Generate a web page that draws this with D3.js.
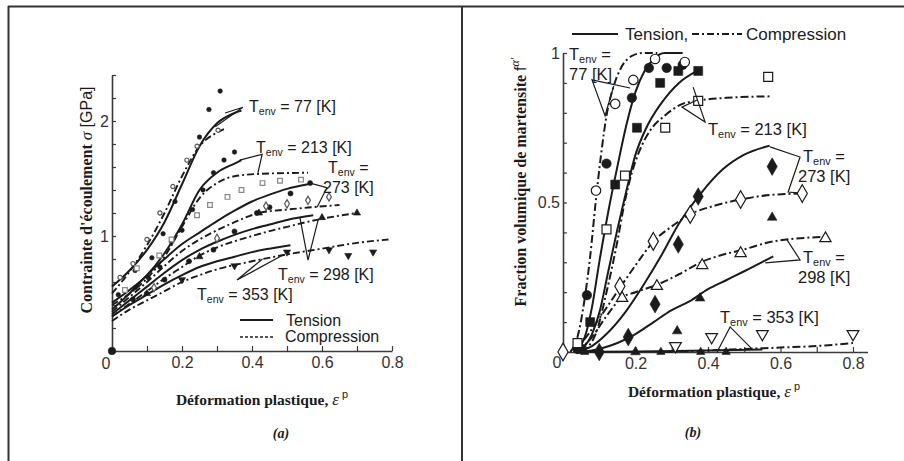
<!DOCTYPE html>
<html><head><meta charset="utf-8">
<script src="https://cdn.jsdelivr.net/npm/d3@7"></script>
<style>body{margin:0;background:#fff}svg{display:block}</style>
</head><body>
<svg id="c" width="904" height="461"></svg>
<script>
// ---------- Panel (a) data : [plastic strain, flow stress GPa] ----------
const xMinorA = [0.1,0.2,0.3,0.4,0.5,0.6,0.7,0.8];
const xLabelsA = {"0.2":"0.2","0.4":"0.4","0.6":"0.6","0.8":"0.8"};
const yMinorA = [0.2,0.4,0.6,0.8,1.0,1.2,1.4,1.6,1.8,2.0,2.2,2.4];
const yLabelsA = {"1":"1","2":"2"};

const tens77A  = [[0,0.56],[0.05,0.7],[0.1,0.88],[0.15,1.12],[0.2,1.45],[0.25,1.78],[0.3,1.98],[0.35,2.07],[0.37,2.09]];
const comp77A  = [[0,0.5],[0.05,0.69],[0.1,0.92],[0.15,1.2],[0.2,1.52],[0.25,1.78],[0.3,1.9],[0.32,1.93]];
const tens213A = [[0,0.42],[0.05,0.53],[0.1,0.66],[0.15,0.85],[0.2,1.1],[0.25,1.4],[0.3,1.55],[0.35,1.63],[0.37,1.66]];
const comp213A = [[0,0.4],[0.05,0.5],[0.1,0.63],[0.15,0.82],[0.2,1.08],[0.25,1.33],[0.3,1.46],[0.35,1.52],[0.42,1.54],[0.56,1.55]];
const tens273A = [[0,0.36],[0.05,0.5],[0.1,0.66],[0.15,0.8],[0.2,0.93],[0.25,1.03],[0.3,1.13],[0.35,1.22],[0.4,1.3],[0.45,1.36],[0.5,1.41],[0.56,1.45]];
const comp273A = [[0,0.34],[0.05,0.47],[0.1,0.6],[0.15,0.74],[0.2,0.87],[0.25,0.97],[0.3,1.05],[0.35,1.12],[0.42,1.2],[0.5,1.23],[0.57,1.25],[0.65,1.27]];
const tens298A = [[0,0.32],[0.05,0.44],[0.1,0.56],[0.15,0.68],[0.2,0.79],[0.25,0.88],[0.3,0.95],[0.35,1.01],[0.4,1.06],[0.45,1.1],[0.5,1.14],[0.575,1.18]];
const comp298A = [[0,0.3],[0.05,0.41],[0.1,0.52],[0.15,0.63],[0.2,0.73],[0.25,0.83],[0.3,0.9],[0.4,1.0],[0.5,1.08],[0.6,1.15],[0.7,1.2]];
const tens353A = [[0,0.3],[0.05,0.4],[0.1,0.49],[0.15,0.58],[0.2,0.66],[0.25,0.73],[0.3,0.78],[0.35,0.82],[0.4,0.86],[0.45,0.89],[0.51,0.92]];
const comp353A = [[0,0.26],[0.05,0.36],[0.1,0.44],[0.15,0.52],[0.2,0.6],[0.25,0.66],[0.3,0.71],[0.4,0.78],[0.5,0.84],[0.6,0.89],[0.7,0.94],[0.79,0.97]];

const dots77A   = [[0.066,0.7],[0.114,0.81],[0.146,1.02],[0.18,1.3],[0.25,1.86],[0.277,2.1],[0.309,2.26]];
const circ77A   = [[0.023,0.64],[0.06,0.76],[0.1,0.97],[0.137,1.2],[0.174,1.43],[0.214,1.66],[0.243,1.78],[0.303,1.92]];
const dots213A  = [[0.018,0.49],[0.066,0.55],[0.103,0.64],[0.137,0.73],[0.17,0.95],[0.2,1.05],[0.23,1.23],[0.26,1.4],[0.29,1.55],[0.32,1.66],[0.35,1.73]];
const sq213A    = [[0.037,0.53],[0.071,0.72],[0.135,0.83],[0.17,0.97],[0.243,1.18],[0.28,1.27],[0.33,1.34],[0.37,1.4],[0.43,1.46],[0.48,1.48],[0.54,1.49]];
const dots273A  = [[0.06,0.45],[0.15,0.62],[0.22,0.78],[0.29,0.88],[0.35,1.04],[0.414,1.2],[0.45,1.25],[0.51,1.37],[0.566,1.46]];
const diam273A  = [[0.12,0.55],[0.3,0.98],[0.44,1.26],[0.5,1.28],[0.56,1.31],[0.62,1.34]];
const tri298A   = [[0.1,0.5],[0.25,0.82],[0.42,1.2],[0.6,1.16],[0.7,1.2]];
const itri353A  = [[0.2,0.62],[0.35,0.74],[0.5,0.86],[0.62,0.88],[0.675,0.83],[0.746,0.86]];
const originA   = [[0,0]];

const lead77A  = [[0.323,2.07],[0.374,2.12],[0.295,1.95]];
const lead213A = [[0.365,1.66],[0.429,1.71],[0.417,1.55]];
const lead273A = [[0.566,1.46],[0.614,1.42],[0.586,1.25]];
const lead298A = [[0.537,1.16],[0.56,0.79],[0.589,1.14]];
const lead353A = [[0.43,0.8],[0.357,0.617],[0.486,0.83]];

// ---------- Panel (b) data : [plastic strain, martensite fraction] ----------
const xMinorB = [0.1,0.2,0.3,0.4,0.5,0.6,0.7,0.8];
const xLabelsB = {"0.2":"0.2","0.4":"0.4","0.6":"0.6","0.8":"0.8"};
const yMinorB = [0.1,0.2,0.3,0.4,0.5,0.6,0.7,0.8,0.9,1.0];
const yLabelsB = {"0.5":"0.5","1":"1"};

const tens77B  = [[0.03,0],[0.06,0.05],[0.08,0.15],[0.1,0.3],[0.125,0.47],[0.15,0.62],[0.175,0.76],[0.2,0.87],[0.225,0.94],[0.25,0.98],[0.28,1.0],[0.33,1.0]];
const comp77B  = [[0.02,0],[0.04,0.05],[0.06,0.18],[0.075,0.32],[0.09,0.5],[0.105,0.66],[0.12,0.79],[0.14,0.89],[0.16,0.95],[0.19,0.99],[0.22,1.0],[0.26,1.0]];
const tens213B = [[0.04,0],[0.08,0.06],[0.1,0.13],[0.125,0.27],[0.15,0.41],[0.175,0.54],[0.2,0.66],[0.23,0.75],[0.27,0.83],[0.32,0.9],[0.37,0.94]];
const comp213B = [[0.05,0],[0.09,0.06],[0.12,0.2],[0.15,0.37],[0.17,0.5],[0.19,0.6],[0.21,0.67],[0.24,0.74],[0.28,0.79],[0.33,0.83],[0.37,0.84],[0.45,0.85],[0.57,0.855]];
const tens273B = [[0.03,0],[0.08,0.02],[0.12,0.06],[0.17,0.13],[0.22,0.22],[0.27,0.32],[0.32,0.43],[0.38,0.53],[0.44,0.61],[0.5,0.66],[0.57,0.69]];
const comp273B = [[0.03,0],[0.07,0.06],[0.11,0.13],[0.16,0.22],[0.2,0.29],[0.25,0.37],[0.3,0.42],[0.35,0.46],[0.42,0.49],[0.49,0.51],[0.57,0.525],[0.66,0.53]];
const tens298B = [[0.05,0],[0.1,0.01],[0.15,0.03],[0.2,0.06],[0.25,0.1],[0.3,0.14],[0.35,0.17],[0.4,0.21],[0.45,0.24],[0.5,0.27],[0.58,0.32]];
const comp298B = [[0.04,0],[0.08,0.05],[0.12,0.12],[0.16,0.18],[0.2,0.2],[0.26,0.225],[0.32,0.26],[0.38,0.3],[0.44,0.325],[0.49,0.34],[0.58,0.37],[0.72,0.385]];
const tens353B = [[0.03,0],[0.2,0.002],[0.4,0.005],[0.55,0.008]];
const comp353B = [[0.28,0],[0.4,0.005],[0.5,0.01],[0.6,0.015],[0.7,0.02],[0.8,0.03]];

const fcirc77B = [[0.04,0.01],[0.066,0.19],[0.12,0.63],[0.19,0.85],[0.237,0.95],[0.286,0.95],[0.33,0.96]];
const ocirc77B = [[0.091,0.54],[0.144,0.83],[0.194,0.91],[0.254,0.98],[0.336,0.97]];
const fsq213B  = [[0.05,0.01],[0.075,0.1],[0.144,0.56],[0.204,0.75],[0.268,0.9],[0.318,0.94],[0.373,0.94]];
const osq213B  = [[0.04,0.03],[0.12,0.41],[0.171,0.59],[0.282,0.75],[0.373,0.84],[0.566,0.92]];
const fdia273B = [[0.1,0.0],[0.18,0.05],[0.254,0.16],[0.318,0.36],[0.373,0.52],[0.577,0.62]];
const odia273B = [[0.0,0.0],[0.157,0.22],[0.249,0.37],[0.351,0.46],[0.49,0.51],[0.66,0.53]];
const ftri298B = [[0.2,0.0],[0.315,0.07],[0.378,0.18],[0.577,0.45]];
const otri298B = [[0.163,0.18],[0.259,0.22],[0.384,0.29],[0.49,0.33],[0.724,0.38]];
const ftri353B = [[0.06,0.0],[0.27,0.0],[0.38,0.0],[0.45,0.0]];
const oitri353B = [[0.31,0.02],[0.41,0.05],[0.55,0.06],[0.8,0.06]];

const lead77B  = [[0.185,0.883],[0.08,0.91],[0.116,0.79],[0.14,0.89]];
const lead213B = [[0.359,0.886],[0.392,0.769],[0.328,0.819],[0.37,0.843]];
const lead273B = [[0.571,0.686],[0.654,0.652],[0.621,0.535],[0.648,0.532]];
const lead298B = [[0.618,0.375],[0.654,0.308],[0.558,0.298]];
const lead353B = [[0.425,0.0],[0.461,0.084],[0.524,0.007]];

// ---------- drawing ----------
const svg = d3.select("#c");
const ink = "#1b1b1b", axisInk = "#3a3a3a";
const SANS = "'Liberation Sans', Arial, sans-serif";
const SERIF = "'Liberation Serif', 'Times New Roman', serif";

// frame
svg.append("line").attr("x1",8).attr("x2",904).attr("y1",6.5).attr("y2",6.5).attr("stroke","#333").attr("stroke-width",2);
svg.append("line").attr("x1",8.5).attr("x2",8.5).attr("y1",6).attr("y2",461).attr("stroke","#333").attr("stroke-width",2);
svg.append("line").attr("x1",462).attr("x2",462).attr("y1",6).attr("y2",461).attr("stroke","#333").attr("stroke-width",2);

const xA = d3.scaleLinear().domain([0,0.8]).range([112,392]);
const yA = d3.scaleLinear().domain([0,2.4]).range([351,75]);
const xB = d3.scaleLinear().domain([0,0.84]).range([563,867.5]);
const yB = d3.scaleLinear().domain([0,1]).range([352,53]);

function styleAxis(g){
  g.select(".domain").attr("stroke",axisInk).attr("stroke-width",1.6);
  g.selectAll(".tick line").attr("stroke",axisInk).attr("stroke-width",1.2);
  g.selectAll(".tick text").attr("font-family",SANS).attr("font-size",16).attr("fill","#333");
}
function axes(x, y, xMinor, xLabels, yMinor, yLabels, y0){
  const gx = svg.append("g").attr("transform",`translate(0,${y0})`)
    .call(d3.axisBottom(x).tickValues(xMinor).tickSize(-5).tickSizeOuter(0).tickPadding(6)
      .tickFormat(d => xLabels[String(+d.toFixed(2))] || ""));
  styleAxis(gx);
  const gy = svg.append("g").attr("transform",`translate(${x(0)},0)`)
    .call(d3.axisLeft(y).tickValues(yMinor).tickSize(-4).tickSizeOuter(0).tickPadding(3)
      .tickFormat(d => yLabels[String(+d.toFixed(2))] || ""));
  styleAxis(gy);
}
axes(xA,yA,xMinorA,xLabelsA,yMinorA,yLabelsA,351);
axes(xB,yB,xMinorB,xLabelsB,yMinorB,yLabelsB,352);
// origin labels
svg.append("text").attr("x",xA(0)-6).attr("y",yA(0)+18).attr("text-anchor","middle")
  .attr("font-family",SANS).attr("font-size",16).attr("fill","#333").text("0");
svg.append("text").attr("x",xB(0)-6).attr("y",yB(0)+16).attr("text-anchor","middle")
  .attr("font-family",SANS).attr("font-size",16).attr("fill","#333").text("0");

const TENS = {dash:null, w:2};
const COMP = {dash:"7,3,2,3", w:1.9};
function curve(x, y, data, st){
  svg.append("path").datum(data)
    .attr("d", d3.line().x(d=>x(d[0])).y(d=>y(d[1])).curve(d3.curveMonotoneX))
    .attr("fill","none").attr("stroke",ink).attr("stroke-width",st.w)
    .attr("stroke-dasharray",st.dash);
}
function leader(x, y, data){
  svg.append("path").datum(data)
    .attr("d", d3.line().x(d=>x(d[0])).y(d=>y(d[1])))
    .attr("fill","none").attr("stroke",ink).attr("stroke-width",1.2);
}
function marks(x, y, data, type, size, filled, color){
  svg.append("g").selectAll("path").data(data).join("path")
    .attr("transform", d=>`translate(${x(d[0])},${y(d[1])})`)
    .attr("d", d3.symbol().type(type).size(size))
    .attr("fill", filled ? (color||ink) : "#fff")
    .attr("stroke", color||ink).attr("stroke-width", filled?0.6:1.2);
}
const invTri = { draw(ctx, size){ const s=Math.sqrt(size/(Math.sqrt(3)/4)); const h=s*Math.sqrt(3)/2;
  ctx.moveTo(-s/2,-h/3); ctx.lineTo(s/2,-h/3); ctx.lineTo(0,2*h/3); ctx.closePath(); } };

// Panel (a) curves
[[tens77A,TENS],[comp77A,COMP],[tens213A,TENS],[comp213A,COMP],[tens273A,TENS],[comp273A,COMP],
 [tens298A,TENS],[comp298A,COMP],[tens353A,TENS],[comp353A,COMP]].forEach(([d,s])=>curve(xA,yA,d,s));
marks(xA,yA,dots77A,d3.symbolCircle,16,true);
marks(xA,yA,circ77A,d3.symbolCircle,14,false,"#555");
marks(xA,yA,dots213A,d3.symbolCircle,16,true);
marks(xA,yA,sq213A,d3.symbolSquare,22,false,"#888");
marks(xA,yA,dots273A,d3.symbolCircle,20,true);
marks(xA,yA,diam273A,d3.symbolDiamond,20,false,"#555");
marks(xA,yA,tri298A,d3.symbolTriangle,22,true);
marks(xA,yA,itri353A,invTri,22,true);
marks(xA,yA,originA,d3.symbolCircle,45,true);
[lead77A,lead213A,lead273A,lead298A,lead353A].forEach(d=>leader(xA,yA,d));

// Panel (b) curves
const COMPB = {dash:"8,3,2,3", w:2};
[[tens77B,TENS],[comp77B,COMPB],[tens213B,TENS],[comp213B,COMPB],[tens273B,TENS],[comp273B,COMPB],
 [tens298B,TENS],[comp298B,COMPB],[tens353B,TENS],[comp353B,COMPB]].forEach(([d,s])=>curve(xB,yB,d,s));
marks(xB,yB,fcirc77B,d3.symbolCircle,70,true);
marks(xB,yB,ocirc77B,d3.symbolCircle,70,false);
marks(xB,yB,fsq213B,d3.symbolSquare,80,true);
marks(xB,yB,osq213B,d3.symbolSquare,80,false);
marks(xB,yB,fdia273B,d3.symbolDiamond,90,true);
marks(xB,yB,odia273B,d3.symbolDiamond,90,false);
marks(xB,yB,ftri298B,d3.symbolTriangle,40,true);
marks(xB,yB,otri298B,d3.symbolTriangle,55,false);
marks(xB,yB,ftri353B,d3.symbolTriangle,30,true);
marks(xB,yB,oitri353B,invTri,60,false);
[lead77B,lead213B,lead273B,lead298B,lead353B].forEach(d=>leader(xB,yB,d));

// annotations
function tenv(x, y, rest, fs){
  const t = svg.append("text").attr("x",x).attr("y",y).attr("font-family",SANS).attr("font-size",fs).attr("fill",ink);
  t.append("tspan").text("T");
  t.append("tspan").attr("font-size",fs*0.66).attr("dy",fs*0.2).text("env");
  t.append("tspan").attr("dy",-fs*0.2).text(" " + rest);
}
function plain(x, y, s, fs){
  svg.append("text").attr("x",x).attr("y",y).attr("font-family",SANS).attr("font-size",fs).attr("fill",ink).text(s);
}
tenv(249,112,"= 77 [K]",16);
tenv(256,153,"= 213 [K]",16);
tenv(328,173,"=",16); plain(323,193,"273 [K]",16);
tenv(278,280,"= 298 [K]",16);
tenv(197,300,"= 353 [K]",16);

tenv(569,60,"=",16.5); plain(569,80,"77 [K]",16.5);
tenv(708,135,"= 213 [K]",16.5);
tenv(803,162,"=",16.5); plain(798,182,"273 [K]",16.5);
tenv(803,263,"=",16.5); plain(798,283,"298 [K]",16.5);
tenv(720,323,"= 353 [K]",16.5);

// legends
svg.append("line").attr("x1",240).attr("x2",273).attr("y1",320).attr("y2",320).attr("stroke",ink).attr("stroke-width",2);
plain(286,326,"Tension",16);
svg.append("line").attr("x1",240).attr("x2",273).attr("y1",337).attr("y2",337).attr("stroke",ink).attr("stroke-width",1.5).attr("stroke-dasharray","3,2");
plain(285,342,"Compression",16);

svg.append("line").attr("x1",572).attr("x2",618).attr("y1",34).attr("y2",34).attr("stroke",ink).attr("stroke-width",2);
plain(625,40,"Tension,",17);
svg.append("line").attr("x1",692).attr("x2",742).attr("y1",34).attr("y2",34).attr("stroke",ink).attr("stroke-width",1.8).attr("stroke-dasharray","7,3,2,3");
plain(746,40,"Compression",17);

// axis titles
function xTitle(cx, y){
  const t = svg.append("text").attr("x",cx).attr("y",y).attr("text-anchor","middle").attr("fill",ink);
  t.append("tspan").attr("font-family",SERIF).attr("font-weight","bold").attr("font-size",15.5).text("Déformation plastique,  ");
  t.append("tspan").attr("font-family",SERIF).attr("font-style","italic").attr("font-size",17).text("ε");
  t.append("tspan").attr("font-family",SANS).attr("font-size",11).attr("dy",-7).text(" p");
}
xTitle(262,405); xTitle(714,397);
const ya = svg.append("text").attr("transform","translate(92,200) rotate(-90)").attr("text-anchor","middle").attr("fill",ink);
ya.append("tspan").attr("font-family",SERIF).attr("font-weight","bold").attr("font-size",16).text("Contrainte d'écoulement ");
ya.append("tspan").attr("font-family",SERIF).attr("font-style","italic").attr("font-size",17).text("σ");
ya.append("tspan").attr("font-family",SANS).attr("font-size",16).text(" [GPa]");
const yb = svg.append("text").attr("transform","translate(526,182) rotate(-90)").attr("text-anchor","middle").attr("fill",ink);
yb.append("tspan").attr("font-family",SERIF).attr("font-weight","bold").attr("font-size",16).text("Fraction volumique de martensite ");
yb.append("tspan").attr("font-family",SANS).attr("font-size",16).text("f");
yb.append("tspan").attr("font-family",SERIF).attr("font-style","italic").attr("font-size",12).attr("dy",-7).text("α'");

svg.append("text").attr("x",281).attr("y",438).attr("text-anchor","middle").attr("font-family",SERIF)
  .attr("font-style","italic").attr("font-weight","bold").attr("font-size",14).attr("fill",ink).text("(a)");
svg.append("text").attr("x",693).attr("y",437).attr("text-anchor","middle").attr("font-family",SERIF)
  .attr("font-style","italic").attr("font-weight","bold").attr("font-size",14).attr("fill",ink).text("(b)");
</script>
</body></html>
